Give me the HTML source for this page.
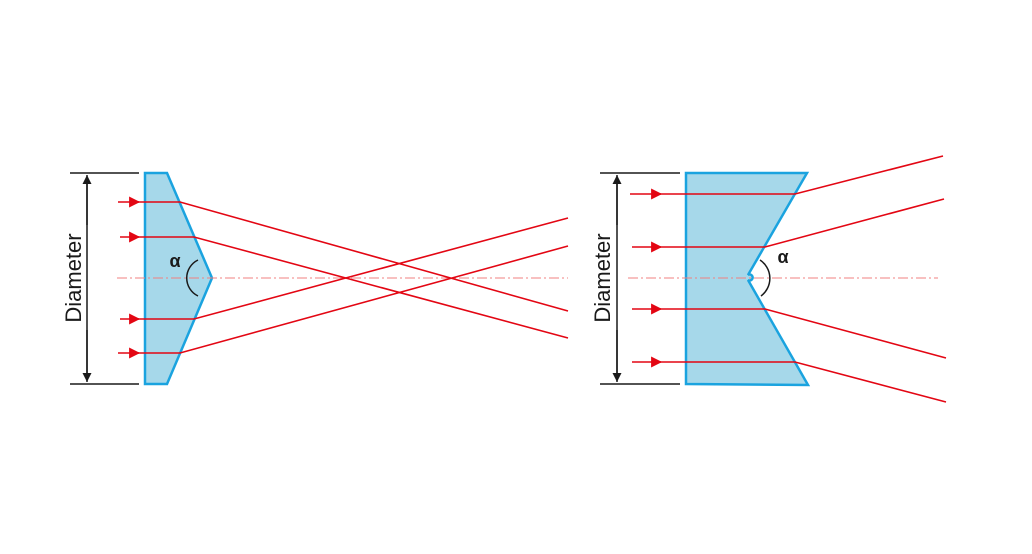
<!DOCTYPE html>
<html><head><meta charset="utf-8"><style>html,body{margin:0;padding:0;background:#fff}</style></head>
<body>
<svg width="1032" height="549" viewBox="0 0 1032 549" xmlns="http://www.w3.org/2000/svg">
<defs>
<marker id="ra" viewBox="0 0 10 10" refX="9" refY="5" markerWidth="12" markerHeight="11" markerUnits="userSpaceOnUse" orient="auto"><path d="M0,0 L10,5 L0,10 z" fill="#e30613"/></marker>
<marker id="ka" viewBox="0 0 10 10" refX="10" refY="5" markerWidth="10" markerHeight="9" markerUnits="userSpaceOnUse" orient="auto"><path d="M0,0 L10,5 L0,10 z" fill="#1a1a1a"/></marker>
</defs>
<!-- LEFT -->
<polygon points="145,173 167,173 212,278 167,384 145,384" fill="#a6d8ea" stroke="#1aa3df" stroke-width="2.5"/>
<line x1="117" y1="278" x2="568" y2="278" stroke="#f08080" stroke-width="1" stroke-dasharray="10,3,2,3"/>
<g stroke="#e30613" stroke-width="1.6" fill="none">
<line x1="118" y1="202" x2="139" y2="202" marker-end="url(#ra)"/><polyline points="135,202 180,202 568,311"/>
<line x1="120" y1="237" x2="139" y2="237" marker-end="url(#ra)"/><polyline points="135,237 194,237 568,338"/>
<line x1="120" y1="319" x2="139" y2="319" marker-end="url(#ra)"/><polyline points="135,319 194,319 568,218"/>
<line x1="118" y1="353" x2="139" y2="353" marker-end="url(#ra)"/><polyline points="135,353 180,353 568,246"/>
</g>
<g stroke="#1a1a1a" stroke-width="1.5" fill="none">
<line x1="70" y1="173" x2="139" y2="173"/><line x1="70" y1="384" x2="139" y2="384"/>
<line x1="87" y1="225" x2="87" y2="175" marker-end="url(#ka)"/><line x1="87" y1="330" x2="87" y2="382" marker-end="url(#ka)"/>
<line x1="87" y1="180" x2="87" y2="378"/>
<path d="M198,260 A20,20 0 0 0 198,296"/>
</g>
<text x="175" y="267" font-family="Liberation Sans, sans-serif" font-size="18" font-weight="bold" fill="#1a1a1a" text-anchor="middle">α</text>
<text transform="translate(81,278) rotate(-90)" font-family="Liberation Sans, sans-serif" font-size="22" fill="#1a1a1a" text-anchor="middle">Diameter</text>
<!-- RIGHT -->
<path d="M686,173 L807,173 L748,275 A3,3 0 1 1 748,280 L808,385 L686,384 Z" fill="#a6d8ea" stroke="#1aa3df" stroke-width="2.5"/>
<line x1="628" y1="278" x2="938" y2="278" stroke="#f08080" stroke-width="1" stroke-dasharray="10,3,2,3"/>
<g stroke="#e30613" stroke-width="1.6" fill="none">
<line x1="630" y1="194" x2="661" y2="194" marker-end="url(#ra)"/><polyline points="655,194 795,194 943,156"/>
<line x1="632" y1="247" x2="661" y2="247" marker-end="url(#ra)"/><polyline points="655,247 765,247 944,199"/>
<line x1="632" y1="309" x2="661" y2="309" marker-end="url(#ra)"/><polyline points="655,309 765,309 946,358"/>
<line x1="632" y1="362" x2="661" y2="362" marker-end="url(#ra)"/><polyline points="655,362 795,362 946,402"/>
</g>
<g stroke="#1a1a1a" stroke-width="1.5" fill="none">
<line x1="600" y1="173" x2="680" y2="173"/><line x1="600" y1="384" x2="680" y2="384"/>
<line x1="617" y1="225" x2="617" y2="175" marker-end="url(#ka)"/><line x1="617" y1="330" x2="617" y2="382" marker-end="url(#ka)"/>
<line x1="617" y1="180" x2="617" y2="378"/>
<path d="M760,260 A22,22 0 0 1 761,296"/>
</g>
<text x="783" y="263" font-family="Liberation Sans, sans-serif" font-size="18" font-weight="bold" fill="#1a1a1a" text-anchor="middle">α</text>
<text transform="translate(610,278) rotate(-90)" font-family="Liberation Sans, sans-serif" font-size="22" fill="#1a1a1a" text-anchor="middle">Diameter</text>
</svg>
</body></html>
